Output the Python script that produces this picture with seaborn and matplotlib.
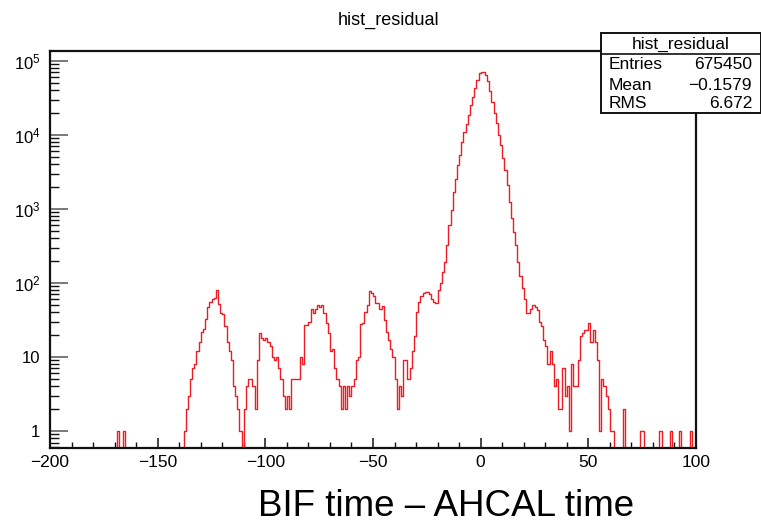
import numpy as np
import pandas as pd
import seaborn as sns
import matplotlib.pyplot as plt
from matplotlib.patches import Rectangle
from matplotlib.lines import Line2D
from matplotlib.ticker import MultipleLocator, LogLocator, FuncFormatter, NullFormatter

# histogram binning: 300 bins of width 1 from -200 to 100
x_min, x_max = -200, 100
bin_width = 1

# counts per bin (bins -200 ... 99, 20 per row)
counts = [
    0, 0, 0, 0, 0, 0, 0, 0, 0, 0, 0, 0, 0, 0, 0, 0, 0, 0, 0, 0,
    0, 0, 0, 0, 0, 0, 0, 0, 0, 0, 0, 1, 0, 0, 1, 0, 0, 0, 0, 0,
    0, 0, 0, 0, 0, 0, 0, 0, 0, 0, 0, 0, 0, 0, 0, 0, 0, 0, 0, 0,
    0, 0, 1, 2, 3, 5, 7, 8, 12, 16, 22, 24, 33, 47, 55, 60, 63, 80, 52, 39,
    38, 26, 16, 12, 9, 4, 3, 2, 1, 0, 2, 4, 5, 5, 4, 2, 9, 21, 18, 17,
    18, 16, 14, 10, 9, 10, 7, 5, 3, 2, 3, 2, 5, 5, 5, 5, 10, 8, 27, 27,
    30, 44, 39, 44, 51, 48, 50, 39, 29, 21, 12, 13, 7, 5, 4, 2, 4, 2, 4, 3,
    4, 5, 9, 10, 28, 29, 40, 51, 77, 74, 66, 53, 53, 45, 49, 32, 22, 17, 13, 10,
    5, 2, 4, 3, 9, 9, 5, 7, 12, 19, 41, 55, 66, 73, 75, 75, 72, 60, 55, 53,
    80, 100, 141, 193, 325, 600, 970, 1700, 2570, 3900, 5330, 8100, 10950, 14200, 18500, 25400, 33000, 42700, 55300, 68000,
    71700, 70000, 64800, 52700, 38900, 28200, 19500, 14300, 10000, 7300, 4840, 3370, 2110, 1260, 750, 494, 327, 195, 125, 85,
    60, 39, 39, 45, 50, 47, 43, 30, 26, 17, 14, 8, 12, 8, 4, 5, 2, 2, 7, 3,
    4, 1, 8, 4, 4, 9, 19, 21, 23, 23, 29, 16, 23, 16, 9, 1, 5, 4, 3, 2,
    1, 1, 0, 0, 0, 0, 2, 0, 0, 0, 0, 0, 0, 0, 1, 1, 0, 0, 0, 0,
    0, 0, 0, 1, 0, 0, 0, 0, 1, 0, 0, 0, 1, 0, 0, 0, 0, 1, 0, 0,
]

stats_labels = ["Entries", "Mean", "RMS"]
stats_values = ["675450", "\u22120.1579", "6.672"]

edges = np.arange(x_min, x_max + bin_width, bin_width)
df = pd.DataFrame({"residual": edges[:-1] + bin_width / 2, "n": counts})

sns.set_style("ticks")
plt.rcParams["font.family"] = ["Liberation Sans", "DejaVu Sans"]
plt.rcParams["mathtext.fontset"] = "custom"
plt.rcParams["mathtext.rm"] = "Liberation Sans"
plt.rcParams["axes.unicode_minus"] = True
plt.rcParams["text.color"] = "black"
plt.rcParams["xtick.color"] = "black"
plt.rcParams["ytick.color"] = "black"

fig = plt.figure(figsize=(7.61, 5.22), dpi=100)
ax = fig.add_axes([50 / 761, 1 - 448 / 522, 646 / 761, 397 / 522])

sns.histplot(data=df, x="residual", weights="n", binwidth=bin_width,
             binrange=(x_min, x_max), element="step",
             fill=False, color="#ee1c24", linewidth=1.0, ax=ax)

ax.set_yscale("log", nonpositive="clip")
ax.set_xlim(x_min, x_max)
ax.set_ylim(0.59, 1.36e5)

# ROOT style axes
for side in ["left", "right", "top", "bottom"]:
    ax.spines[side].set_visible(True)
    ax.spines[side].set_linewidth(1.6)
    ax.spines[side].set_color("#111111")

ax.xaxis.set_major_locator(MultipleLocator(50))
ax.xaxis.set_minor_locator(MultipleLocator(10))
ax.yaxis.set_major_locator(LogLocator(base=10, numticks=12))
ax.yaxis.set_minor_locator(LogLocator(base=10, subs=np.arange(2, 10), numticks=12))
ax.yaxis.set_minor_formatter(NullFormatter())


def log_label(v, pos):
    if v == 1:
        return "1"
    if v == 10:
        return "10"
    return r"$\mathregular{10^{%d}}$" % int(round(np.log10(v)))


ax.yaxis.set_major_formatter(FuncFormatter(log_label))

ax.tick_params(axis="x", which="major", direction="in", length=7, width=1.1,
               labelsize=12.5, pad=5, top=False, color="#111111", labelcolor="black")
ax.tick_params(axis="x", which="minor", direction="in", length=4, width=1.0,
               top=False, color="#111111")
ax.tick_params(axis="y", which="major", direction="in", length=13, width=1.1,
               labelsize=12, pad=7, right=False, color="#555555", labelcolor="black")
ax.tick_params(axis="y", which="minor", direction="in", length=6.5, width=1.0,
               right=False, color="#111111")

ax.set_xlabel("")
ax.set_ylabel("")

# title
fig.text(389 / 761, 1 - 20 / 522, "hist_residual", ha="center", va="center",
         fontsize=13, color="black")

# stats box
bx0, by0, bw, bh = 601 / 761, 1 - 113 / 522, 160 / 761, 80 / 522
fig.patches.append(Rectangle((bx0, by0), bw, bh, transform=fig.transFigure,
                             facecolor="white", edgecolor="#111111", linewidth=1.4,
                             zorder=5))
fig.lines.append(Line2D([bx0, bx0 + bw], [1 - 54 / 522, 1 - 54 / 522],
                        transform=fig.transFigure, color="#111111", linewidth=1.2,
                        zorder=6))
fig.text(bx0 + bw / 2, 1 - 44 / 522, "hist_residual", ha="center", va="center",
         fontsize=12.5, color="black", zorder=7)
row_y = [65, 85, 104]
for lab, val, yy in zip(stats_labels, stats_values, row_y):
    fig.text(609 / 761, 1 - yy / 522, lab, ha="left", va="center", fontsize=12.5,
             color="black", zorder=7)
    fig.text(752 / 761, 1 - yy / 522, val, ha="right", va="center", fontsize=12.5,
             color="black", zorder=7)

# axis caption under the plot
fig.text(446 / 761, 1 - 506 / 522, "BIF time \u2013 AHCAL time", ha="center",
         va="center", fontsize=26.5, color="black")

fig.savefig("out.png", dpi=100)
